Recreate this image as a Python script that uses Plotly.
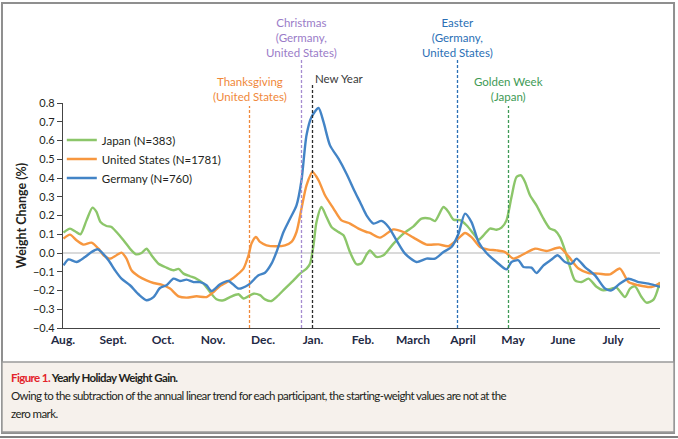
import plotly.graph_objects as go

# ---------------- data (x in months since 1 Aug, y in % weight change) ----------------
month_labels = ["Aug.", "Sept.", "Oct.", "Nov.", "Dec.", "Jan.", "Feb.", "March", "April", "May", "June", "July"]
month_pos = list(range(12))

japan_x = [0.01, 0.14, 0.24, 0.35, 0.47, 0.59, 0.67, 0.75, 0.87, 0.97, 1.07, 1.21, 1.34, 1.46, 1.57, 1.67, 1.77, 1.91,
           2.07, 2.21, 2.31, 2.41, 2.54, 2.67, 2.81, 2.94, 3.07, 3.21, 3.34, 3.51, 3.61, 3.81, 3.94, 4.04, 4.17, 4.27,
           4.44, 4.61, 4.74, 4.87, 4.94, 5.01, 5.07, 5.17, 5.27, 5.37, 5.51, 5.61, 5.74, 5.87, 5.97, 6.07, 6.14, 6.27,
           6.41, 6.61, 6.81, 7.01, 7.17, 7.34, 7.44, 7.61, 7.71, 7.81, 7.94, 8.07, 8.21, 8.31, 8.41, 8.54, 8.67, 8.77,
           8.87, 8.97, 9.07, 9.16, 9.24, 9.34, 9.47, 9.61, 9.74, 9.84, 9.94, 10.04, 10.14, 10.24, 10.37, 10.51, 10.67,
           10.81, 10.97, 11.07, 11.24, 11.34, 11.44, 11.57, 11.67, 11.81, 11.94]
japan_y = [0.109, 0.13, 0.116, 0.10, 0.174, 0.242, 0.219, 0.165, 0.144, 0.139, 0.112, 0.068, 0.023, -0.007, 0.0, 0.023,
           -0.012, -0.057, -0.078, -0.092, -0.085, -0.11, -0.124, -0.137, -0.163, -0.208, -0.247, -0.252, -0.235,
           -0.22, -0.243, -0.217, -0.225, -0.247, -0.256, -0.235, -0.19, -0.146, -0.11, -0.083, -0.057, 0.041, 0.165,
           0.245, 0.192, 0.139, 0.112, 0.094, 0.005, -0.06, -0.055, -0.009, 0.014, -0.021, -0.012, 0.05, 0.103, 0.142,
           0.183, 0.183, 0.17, 0.245, 0.219, 0.178, 0.175, 0.148, 0.103, 0.071, 0.094, 0.13, 0.124, 0.135, 0.174,
           0.299, 0.405, 0.414, 0.379, 0.308, 0.254, 0.183, 0.13, 0.12, 0.085, 0.014, -0.075, -0.146, -0.155, -0.137,
           -0.18, -0.199, -0.19, -0.185, -0.235, -0.19, -0.178, -0.235, -0.265, -0.249, -0.155]

us_x = [0.01, 0.14, 0.27, 0.41, 0.57, 0.71, 0.81, 0.94, 1.07, 1.17, 1.27, 1.37, 1.51, 1.67, 1.81, 1.97, 2.14, 2.31,
        2.47, 2.67, 2.87, 3.01, 3.14, 3.34, 3.47, 3.61, 3.71, 3.77, 3.86, 3.94, 4.07, 4.27, 4.44, 4.57, 4.67, 4.77,
        4.87, 4.99, 5.11, 5.24, 5.41, 5.57, 5.74, 5.91, 6.07, 6.14, 6.34, 6.61, 6.81, 7.01, 7.27, 7.51, 7.71, 7.87,
        8.04, 8.17, 8.34, 8.51, 8.67, 8.84, 9.01, 9.17, 9.44, 9.67, 9.94, 10.11, 10.31, 10.51, 10.71, 10.94, 11.14,
        11.31, 11.51, 11.77, 11.94]
us_y = [0.077, 0.098, 0.068, 0.045, 0.055, 0.023, -0.012, -0.03, -0.012, 0.002, -0.03, -0.092, -0.124, -0.146, -0.16,
        -0.169, -0.19, -0.231, -0.238, -0.231, -0.235, -0.208, -0.176, -0.146, -0.119, -0.083, -0.012, 0.05, 0.085,
        0.059, 0.041, 0.036, 0.041, 0.059, 0.112, 0.237, 0.361, 0.432, 0.388, 0.308, 0.237, 0.174, 0.157, 0.13,
        0.112, 0.107, 0.082, 0.126, 0.112, 0.082, 0.045, 0.046, 0.036, 0.068, 0.107, 0.085, 0.032, 0.018, 0.014,
        0.005, -0.03, -0.012, 0.023, 0.011, 0.029, -0.018, -0.083, -0.107, -0.11, -0.114, -0.083, -0.155, -0.172,
        -0.181, -0.16]

germany_x = [0.01, 0.11, 0.27, 0.44, 0.57, 0.69, 0.77, 0.91, 1.04, 1.17, 1.34, 1.51, 1.67, 1.81, 1.94, 2.07, 2.21,
             2.34, 2.47, 2.61, 2.74, 2.87, 2.97, 3.14, 3.31, 3.51, 3.71, 3.91, 4.04, 4.17, 4.27, 4.41, 4.54, 4.67,
             4.77, 4.87, 4.97, 5.11, 5.21, 5.34, 5.51, 5.67, 5.84, 5.94, 6.07, 6.21, 6.37, 6.51, 6.67, 6.84, 7.07,
             7.27, 7.44, 7.61, 7.77, 7.91, 8.04, 8.17, 8.31, 8.47, 8.67, 8.87, 8.97, 9.11, 9.21, 9.37, 9.47, 9.61,
             9.77, 9.89, 10.04, 10.17, 10.27, 10.44, 10.64, 10.84, 10.97, 11.14, 11.31, 11.51, 11.71, 11.94]
germany_y = [-0.066, -0.034, -0.048, -0.021, 0.005, 0.02, 0.005, -0.039, -0.092, -0.137, -0.172, -0.22, -0.252,
             -0.235, -0.187, -0.172, -0.137, -0.149, -0.142, -0.155, -0.155, -0.172, -0.203, -0.167, -0.149, -0.19,
             -0.169, -0.119, -0.105, -0.057, 0.005, 0.112, 0.183, 0.254, 0.388, 0.628, 0.725, 0.773, 0.699, 0.574,
             0.503, 0.423, 0.325, 0.272, 0.201, 0.157, 0.171, 0.139, 0.068, -0.003, -0.048, -0.03, -0.03, 0.005,
             0.032, 0.103, 0.21, 0.165, 0.059, 0.0, -0.048, -0.087, -0.048, -0.039, -0.075, -0.078, -0.107, -0.066,
             -0.035, -0.012, -0.048, -0.057, -0.03, -0.075, -0.119, -0.19, -0.199, -0.163, -0.137, -0.155, -0.163,
             -0.181]

series_names = ["Japan (N=383)", "United States (N=1781)", "Germany (N=760)"]
series_colors = ["#8cc66a", "#f7973f", "#4384c6"]

# holidays
holiday_x = [3.73, 4.77, 4.99, 7.89, 8.91]
holiday_labels = ["Thanksgiving<br>(United States)", "Christmas<br>(Germany,<br>United States)", "New Year",
                  "Easter<br>(Germany,<br>United States)", "Golden Week<br>(Japan)"]
holiday_colors = ["#f0883a", "#a58cd0", "#2b2b2b", "#2a6fb5", "#3e9a55"]
holiday_text_colors = ["#f0883a", "#9a7cc8", "#3a3a3a", "#2a6fb5", "#3e9a55"]
holiday_line_top = [0.987, 1.191, 1.08, 1.196, 0.987]
holiday_label_y = [1.062, 1.29, 1.111, 1.29, 1.062]
holiday_label_anchor = ["center", "center", "left", "center", "center"]

caption_title = "Yearly Holiday Weight Gain."
caption_body = ("Owing to the subtraction of the annual linear trend for each participant, the starting-weight values are not at the",
                "zero mark.")

FONT = "Lato, 'Liberation Sans', sans-serif"
TIGHT = "<span style='letter-spacing:-0.6px'>{}</span>"

fig = go.Figure()
for xs, ys, name, col in zip([japan_x, us_x, germany_x], [japan_y, us_y, germany_y], series_names, series_colors):
    fig.add_trace(go.Scatter(x=xs, y=ys, mode="lines", name=name,
                             line=dict(color=col, width=2.4, shape="spline", smoothing=0.7),
                             hoverinfo="skip"))

shapes = []
shapes.append(dict(type="rect", xref="paper", yref="paper", x0=-0.1022, x1=1.0235, y0=-0.4667, y1=1.444,
                   line=dict(color="#8f8f8f", width=2), fillcolor="rgba(0,0,0,0)", layer="below"))
shapes.append(dict(type="rect", xref="paper", yref="paper", x0=-0.1022, x1=1.0235, y0=-0.4622, y1=-0.1511,
                   line=dict(color="#9a9a9a", width=1.5), fillcolor="#f6f1ec", layer="below"))
shapes.append(dict(type="line", xref="paper", yref="paper", x0=-0.1055, x1=1.0302, y0=-0.4844, y1=-0.4844,
                   line=dict(color="#555555", width=1.5)))
shapes.append(dict(type="line", xref="paper", yref="y", x0=0, x1=1, y0=0, y1=0,
                   line=dict(color="#b5b5b5", width=1.2), layer="below"))
for hx, hc, top in zip(holiday_x, holiday_colors, holiday_line_top):
    shapes.append(dict(type="line", xref="x", yref="paper", x0=hx, x1=hx, y0=0, y1=top,
                       line=dict(color=hc, width=1.3, dash="3px,2px")))

annotations = []
for hx, lab, tc, ly, anc in zip(holiday_x, holiday_labels, holiday_text_colors, holiday_label_y, holiday_label_anchor):
    annotations.append(dict(x=hx if anc == "center" else 5.0, y=ly, xref="x", yref="paper", text=lab,
                            showarrow=False, xanchor=anc, yanchor="middle", align="center",
                            font=dict(family=FONT, size=11.5, color=tc)))

annotations.append(dict(x=-0.0905, y=-0.218, xref="paper", yref="paper", xanchor="left", yanchor="middle",
                        showarrow=False, align="left",
                        text=TIGHT.format("<b><span style='color:#e3232b'>Figure 1.</span> " + caption_title + "</b>"),
                        font=dict(family=FONT, size=11.5, color="#231f20")))
for i, line in enumerate(caption_body):
    annotations.append(dict(x=-0.0905, y=[-0.302, -0.378][i], xref="paper", yref="paper", xanchor="left",
                            yanchor="middle", showarrow=False, align="left", text=TIGHT.format(line),
                            font=dict(family=FONT, size=11.5, color="#231f20")))

fig.update_layout(
    width=678, height=439,
    margin=dict(l=63, r=18, t=103, b=111, pad=0),
    paper_bgcolor="white", plot_bgcolor="white",
    font=dict(family=FONT, color="#231f20"),
    showlegend=True,
    legend=dict(x=-0.002, y=0.9, xanchor="left", yanchor="top", bgcolor="rgba(0,0,0,0)",
                font=dict(family=FONT, size=11.5, color="#231f20"), itemwidth=30, tracegroupgap=0),
    shapes=shapes, annotations=annotations,
    xaxis=dict(range=[0, 11.94], tickvals=month_pos, ticktext=month_labels, showgrid=False, zeroline=False,
               showline=True, linecolor="#444444", linewidth=1.3, ticks="",
               tickfont=dict(family=FONT, size=12, color="#1f2a44", weight="bold"), fixedrange=True),
    yaxis=dict(range=[-0.4, 0.8], dtick=0.1, tickformat=".1f", showgrid=False, zeroline=False,
               showline=True, linecolor="#444444", linewidth=1.3, ticks="outside", ticklen=5,
               tickcolor="#444444", tickwidth=1.2,
               tickfont=dict(family=FONT, size=11, color="#231f20"),
               title=dict(text="<b>Weight Change (%)</b>", font=dict(family=FONT, size=12.5, color="#231f20"),
                          standoff=3), fixedrange=True),
)

fig.write_html("out.html", post_script="document.body.style.margin='0';",
               config={"displayModeBar": False})
